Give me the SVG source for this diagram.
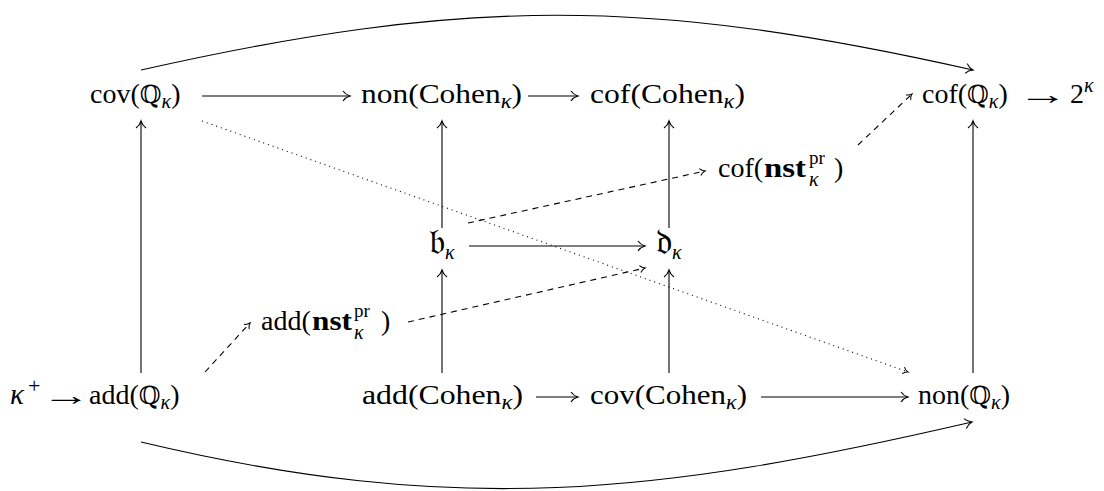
<svg xmlns="http://www.w3.org/2000/svg" width="1104" height="491" viewBox="0 0 1104 491">
<defs>
<style>
.t{font-family:"Liberation Serif","DejaVu Serif",serif;font-size:28px;fill:#000}
.bb{font-family:"DejaVu Serif","Liberation Serif",serif;font-size:25px}
.k{font-family:"Liberation Serif","DejaVu Serif",serif;font-style:italic;font-size:20px}
.K{font-family:"Liberation Serif","DejaVu Serif",serif;font-style:italic;font-size:29px}
.s{font-family:"Liberation Serif",serif;font-size:19px}
.p{font-family:"Liberation Serif",serif;font-size:22px}
.bf{font-family:"Liberation Serif",serif;font-size:28px;font-weight:bold}
.fr{font-family:"DejaVu Serif","Noto Sans",serif;font-size:36px}
.c{fill:none;stroke:#000;stroke-width:1.1}
.d{stroke-dasharray:6 5}
.o{stroke-dasharray:1 4}
</style>
<marker id="a" markerUnits="userSpaceOnUse" viewBox="-10 -8 12 16" refX="0" refY="0" markerWidth="12" markerHeight="16" orient="auto" overflow="visible">
<path d="M-7,-5 C-5,-2 -2,-0.6 0,0 C-2,0.6 -5,2 -7,5" fill="none" stroke="#000" stroke-width="1.1"/>
</marker>
<marker id="b" markerUnits="userSpaceOnUse" viewBox="-10 -8 12 16" refX="0" refY="0" markerWidth="12" markerHeight="16" orient="auto" overflow="visible">
<path d="M-5,-3.5 C-3.5,-1.4 -1.5,-0.4 0,0 C-1.5,0.4 -3.5,1.4 -5,3.5" fill="none" stroke="#000" stroke-width="1"/>
</marker>
</defs>
<rect width="1104" height="491" fill="#fff"/>

<g id="covQ"><text class="t" x="90" y="103">cov(<tspan class="bb">ℚ</tspan><tspan class="k" dy="5">κ</tspan><tspan dy="-5">)</tspan></text></g>
<g id="nonCohen"><text class="t" x="361" y="103" textLength="161" lengthAdjust="spacingAndGlyphs">non(Cohen<tspan class="k" dy="5">κ</tspan><tspan dy="-5">)</tspan></text></g>
<g id="cofCohen"><text class="t" x="590" y="103" textLength="155" lengthAdjust="spacingAndGlyphs">cof(Cohen<tspan class="k" dy="5">κ</tspan><tspan dy="-5">)</tspan></text></g>
<g id="cofQ"><text class="t" x="922" y="103">cof(<tspan class="bb">ℚ</tspan><tspan class="k" dy="5">κ</tspan><tspan dy="-5">)</tspan></text>
<text class="t" transform="translate(1018,104) scale(1.8,1)">→</text>
<text class="t" x="1070" y="103">2<tspan class="k" dy="-11">κ</tspan></text></g>

<g id="cofNst"><text class="t" x="718" y="177">cof(</text>
<text class="bf" x="764" y="177" textLength="42" lengthAdjust="spacingAndGlyphs">nst</text>
<text class="s" x="809" y="164">pr</text>
<text class="k" x="809" y="186">κ</text>
<text class="t" x="834" y="177">)</text></g>

<g id="bk"><text class="fr" x="429" y="254">𝔟<tspan class="k" dy="5">κ</tspan></text></g>
<g id="dk"><text class="fr" x="656" y="254">𝔡<tspan class="k" dy="5">κ</tspan></text></g>

<g id="addNst"><text class="t" x="261" y="330">add(</text>
<text class="bf" x="312" y="330" textLength="40" lengthAdjust="spacingAndGlyphs">nst</text>
<text class="s" x="354" y="317">pr</text>
<text class="k" x="354" y="339">κ</text>
<text class="t" x="381" y="330">)</text></g>

<g id="addQ"><text class="K" x="10" y="404">κ</text>
<text class="p" x="28" y="393">+</text>
<text class="t" transform="translate(42,405) scale(1.75,1)">→</text>
<text class="t" x="89" y="404">add(<tspan class="bb">ℚ</tspan><tspan class="k" dy="5">κ</tspan><tspan dy="-5">)</tspan></text></g>
<g id="addCohen"><text class="t" x="362" y="404" textLength="161" lengthAdjust="spacingAndGlyphs">add(Cohen<tspan class="k" dy="5">κ</tspan><tspan dy="-5">)</tspan></text></g>
<g id="covCohen"><text class="t" x="590" y="404" textLength="157" lengthAdjust="spacingAndGlyphs">cov(Cohen<tspan class="k" dy="5">κ</tspan><tspan dy="-5">)</tspan></text></g>
<g id="nonQ"><text class="t" x="918" y="404">non(<tspan class="bb">ℚ</tspan><tspan class="k" dy="5">κ</tspan><tspan dy="-5">)</tspan></text></g>

<g id="connectors">
<path class="c" marker-end="url(#a)" d="M141,70 C466,-3 648,-3 973,70"/>
<path class="c" marker-end="url(#a)" d="M141,442 C456,517 657,495 972,422"/>
<path class="c" marker-end="url(#a)" d="M202,96 H350"/>
<path class="c" marker-end="url(#a)" d="M528,96 H578"/>
<path class="c" marker-end="url(#a)" d="M469,246 H645"/>
<path class="c" marker-end="url(#a)" d="M536,397 H578"/>
<path class="c" marker-end="url(#a)" d="M761,397 H908"/>
<path class="c" marker-end="url(#a)" d="M141,373 V121"/>
<path class="c" marker-end="url(#a)" d="M442,228 V121"/>
<path class="c" marker-end="url(#a)" d="M669,228 V121"/>
<path class="c" marker-end="url(#a)" d="M442,373 V270"/>
<path class="c" marker-end="url(#a)" d="M669,373 V270"/>
<path class="c" marker-end="url(#a)" d="M973,373 V121"/>
<path class="c d" marker-end="url(#b)" d="M205,372 L250,323"/>
<path class="c d" marker-end="url(#b)" d="M408,322 L645,268"/>
<path class="c d" marker-end="url(#b)" d="M468,223 L705,171"/>
<path class="c d" marker-end="url(#b)" d="M858,145 L912,94"/>
<path class="c o" marker-end="url(#b)" d="M202,121 L908,372"/>
</g>
</svg>
